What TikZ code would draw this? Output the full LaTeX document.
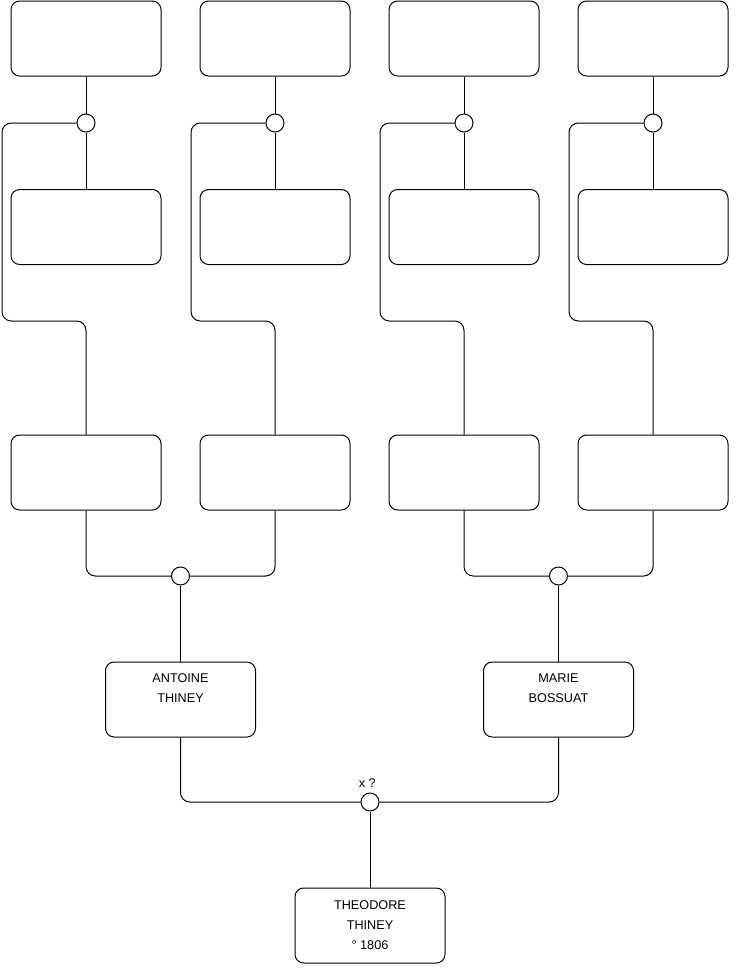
\documentclass[tikz,border=0pt]{standalone}
\usepackage{fontspec}
\setmainfont{Liberation Sans}
\usetikzlibrary{positioning}
\tikzset{
  person/.style={draw,rectangle,rounded corners=6.5pt,minimum width=112.5pt,minimum height=56.25pt,align=center,inner sep=0pt,line width=0.75pt},
  union/.style={draw,circle,minimum size=13.5pt,inner sep=0pt,line width=0.75pt},
  link/.style={line width=0.75pt,rounded corners=7pt}
}

\begin{document}
\begin{tikzpicture}[x=0.75pt,y=-0.75pt,font=\fontsize{9.5pt}{15pt}\selectfont]
\useasboundingbox (0,0) rectangle (740,975);

% four ancestor columns
\foreach \i/\x in {1/86,2/275,3/464,4/653}{
  \node[person] (a\i) at (\x,38.5) {};
  \node[union] (u\i) at (\x,123) {};
  \node[person] (b\i) at (\x,227) {};
  \node[person] (g\i) at (\x,472.5) {};
  \coordinate (s\i) at (\x-84,321);
  \draw[link] (a\i) -- (u\i);
  \draw[link] (u\i) -- (b\i);
  \draw[link] (u\i.west) -| (s\i) -| (g\i.north);
}

% grandparents' unions
\node[union] (p1) at (180.5,576) {};
\node[union] (p2) at (558.5,576) {};
\draw[link] (g1.south) |- (p1.west);
\draw[link] (g2.south) |- (p1.east);
\draw[link] (g3.south) |- (p2.west);
\draw[link] (g4.south) |- (p2.east);

% parents
\node[person] (antoine) at (180.5,699.5) {ANTOINE\\THINEY\\[2.5pt]\phantom{0}};
\node[person] (marie) at (558.5,699.5) {MARIE\\BOSSUAT\\[2.5pt]\phantom{0}};
\draw[link] (p1) -- (antoine);
\draw[link] (p2) -- (marie);

% marriage
\node[union] (m) at (370,802) {};
\node[above=0pt of m,xshift=-2pt] (mtext) {x ?};
\draw[link] (antoine.south) |- (m.west);
\draw[link] (marie.south) |- (m.east);

% child
\node[person] (theodore) at (370,925.5) {THEODORE\\THINEY\\° 1806};
\draw[link] (m) -- (theodore);
\end{tikzpicture}
\end{document}
